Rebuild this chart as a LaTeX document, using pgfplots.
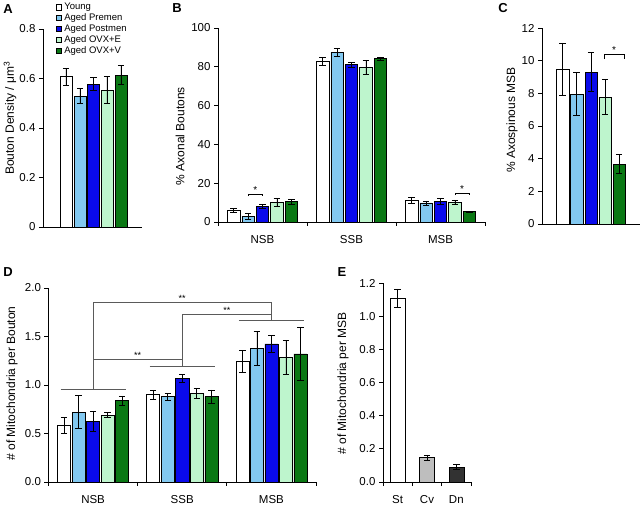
\documentclass[border=0pt]{standalone}
\usepackage{fontspec}
\setmainfont{Liberation Sans}
\usepackage{pgfplots}
\pgfplotsset{compat=1.18}

\definecolor{Premen}{RGB}{130,200,240}
\definecolor{Postmen}{RGB}{10,10,235}
\definecolor{OVXE}{RGB}{190,245,205}
\definecolor{OVXV}{RGB}{10,120,20}
\definecolor{Cv}{RGB}{190,190,190}
\definecolor{Dn}{RGB}{50,50,50}
\definecolor{brk}{RGB}{90,90,90}

\pgfplotsset{
  panel/.style={
    scale only axis, anchor=south west,
    axis lines*=left, axis line style={-, line width=0.8bp},
    ybar, ymin=0, clip=false,
    tick align=outside, major tick length=4bp, minor tick length=4bp,
    tick style={black, line width=0.8bp},
    tick label style={font=\fontsize{11.5bp}{13bp}\selectfont},
    ylabel style={font=\fontsize{12bp}{14bp}\selectfont, anchor=center},
    /pgf/number format/assume math mode=true,
    error bars/y dir=both, error bars/y explicit,
    error bars/error bar style={black, line width=0.6bp},
    error bars/error mark options={rotate=90, mark size=3.2bp, line width=0.6bp, black},
  },
  catx/.style={
    xmin=-0.5, xmax=2.5, xtick={0,1,2},
    minor xtick={-0.5,0.5,1.5,2.5},
    major x tick style={draw=none},
    xticklabel style={yshift=-6bp},
  },
  onedec/.style={yticklabel style={/pgf/number format/.cd, fixed, fixed zerofill, precision=1}},
  bx/.style={draw=black, line width=0.5bp, fill=#1},
  sq/.style={legend image code/.code={\draw[fill=#1, draw=black, line width=0.5bp] (0bp,-2.8bp) rectangle (5.6bp,2.8bp); \path (7.6bp,0);}},
}
\newcommand{\plab}[1]{\fontsize{13bp}{15bp}\selectfont\bfseries #1}

\begin{document}
\begin{tikzpicture}
\useasboundingbox (0,0) rectangle (640bp,508bp);

% ---------- A ----------
\node at (8bp,499bp) {\plab{A}};
\begin{axis}[panel, at={(43bp,281bp)}, width=99bp, height=198bp,
    xmin=-50.5, xmax=48.5, ymax=0.8, ytick={0,0.2,0.4,0.6,0.8}, xtick=\empty,
    bar width=12, ylabel={Bouton Density / μm\textsuperscript{3}},
    ylabel style={at={(axis description cs:-0.333,0.55)}},
    legend style={at={(axis description cs:0.095,1.145)}, anchor=north west,
      draw=none, fill=none, font=\fontsize{9.5bp}{11bp}\selectfont,
      row sep=1.4bp, nodes={inner sep=0.6bp}},
    legend cell align=left]
\addplot[bx=white, bar shift=-27.5, sq=white] coordinates {(0,0.608) +- (0,0.034)};
\addplot[bx=Premen, bar shift=-13.5, sq=Premen] coordinates {(0,0.530) +- (0,0.032)};
\addplot[bx=Postmen, bar shift=0, sq=Postmen] coordinates {(0,0.578) +- (0,0.025)};
\addplot[bx=OVXE, bar shift=13.5, sq=OVXE] coordinates {(0,0.554) +- (0,0.055)};
\addplot[bx=OVXV, bar shift=27.5, sq=OVXV] coordinates {(0,0.615) +- (0,0.038)};
\legend{Young, Aged Premen, Aged Postmen, Aged OVX+E, Aged OVX+V}
\end{axis}

% ---------- B ----------
\node at (177bp,500bp) {\plab{B}};
\begin{axis}[panel, catx, at={(218bp,286bp)}, width=267bp, height=194bp,
    ymax=100, ytick={0,20,40,60,80,100}, xticklabels={NSB,SSB,MSB},
    bar width=0.14, ylabel={\% Axonal Boutons},
    ylabel style={at={(axis description cs:-0.142,0.443)}}]
\addplot[bx=white, bar shift=-0.324] coordinates {(0,6.0) +- (0,1.2) (1,82.8) +- (0,2.0) (2,11.2) +- (0,1.7)};
\addplot[bx=Premen, bar shift=-0.162] coordinates {(0,3.0) +- (0,1.7) (1,87.6) +- (0,2.0) (2,9.8) +- (0,1.1)};
\addplot[bx=Postmen, bar shift=0] coordinates {(0,8.0) +- (0,1.0) (1,81.1) +- (0,1.3) (2,10.6) +- (0,1.5)};
\addplot[bx=OVXE, bar shift=0.162] coordinates {(0,10.2) +- (0,2.2) (1,79.6) +- (0,3.5) (2,10.3) +- (0,1.1)};
\addplot[bx=OVXV, bar shift=0.324] coordinates {(0,10.5) +- (0,1.3) (1,84.2) +- (0,0.9) (2,5.3) +- (0,0.35)};
\draw[line width=0.6bp] (axis cs:-0.162,13.3) |- (axis cs:0,14.4) -- (axis cs:0,13.3);
\node[anchor=south, inner sep=0.5bp, font=\fontsize{10bp}{11bp}\selectfont] at (axis cs:-0.081,14.4) {*};
\draw[line width=0.6bp] (axis cs:2.162,13.9) |- (axis cs:2.324,15.0) -- (axis cs:2.324,13.9);
\node[anchor=south, inner sep=0.5bp, font=\fontsize{10bp}{11bp}\selectfont] at (axis cs:2.243,15.0) {*};
\end{axis}

% ---------- C ----------
\node at (503bp,500bp) {\plab{C}};
\begin{axis}[panel, at={(542bp,284bp)}, width=98bp, height=196bp,
    xmin=-49, xmax=49, ymax=12, ytick={0,2,4,6,8,10,12}, xtick=\empty,
    bar width=12.5, ylabel={\% Axospinous MSB},
    ylabel style={at={(axis description cs:-0.306,0.53)}}]
\addplot[bx=white, bar shift=-28.5] coordinates {(0,9.47) +- (0,1.62)};
\addplot[bx=Premen, bar shift=-14.5] coordinates {(0,7.97) +- (0,1.30)};
\addplot[bx=Postmen, bar shift=0] coordinates {(0,9.30) +- (0,1.20)};
\addplot[bx=OVXE, bar shift=14] coordinates {(0,7.79) +- (0,1.07)};
\addplot[bx=OVXV, bar shift=28] coordinates {(0,3.66) +- (0,0.58)};
\draw[line width=0.6bp] (axis cs:13,10.1) |- (axis cs:33,10.37) -- (axis cs:33,10.1);
\node[anchor=south, inner sep=0.5bp, font=\fontsize{10bp}{11bp}\selectfont] at (axis cs:23,10.37) {*};
\end{axis}

% ---------- D ----------
\node at (8bp,236bp) {\plab{D}};
\begin{axis}[panel, catx, onedec, at={(48.5bp,26bp)}, width=267.5bp, height=194bp,
    ymax=2, ytick={0,0.5,1,1.5,2}, xticklabels={NSB,SSB,MSB},
    bar width=0.146, ylabel={\# of Mitochondria per Bouton},
    ylabel style={at={(axis description cs:-0.136,0.508)}}]
\addplot[bx=white, bar shift=-0.326] coordinates {(0,0.583) +- (0,0.085) (1,0.90) +- (0,0.047) (2,1.245) +- (0,0.115)};
\addplot[bx=Premen, bar shift=-0.163] coordinates {(0,0.72) +- (0,0.17) (1,0.88) +- (0,0.033) (2,1.38) +- (0,0.175)};
\addplot[bx=Postmen, bar shift=0] coordinates {(0,0.625) +- (0,0.10) (1,1.07) +- (0,0.04) (2,1.425) +- (0,0.083)};
\addplot[bx=OVXE, bar shift=0.163] coordinates {(0,0.69) +- (0,0.027) (1,0.915) +- (0,0.053) (2,1.285) +- (0,0.175)};
\addplot[bx=OVXV, bar shift=0.326] coordinates {(0,0.84) +- (0,0.047) (1,0.88) +- (0,0.07) (2,1.32) +- (0,0.275)};
\begin{scope}[brk, line width=0.8bp]
\draw (axis cs:-0.365,0.958) -- (axis cs:0.37,0.958);
\draw (axis cs:0.635,1.19) -- (axis cs:1.365,1.19);
\draw (axis cs:1.635,1.667) -- (axis cs:2.365,1.667);
\draw (axis cs:0,0.958) |- (axis cs:2,1.854) -- (axis cs:2,1.667);
\draw (axis cs:0,1.26) -- (axis cs:1,1.26);
\draw (axis cs:1,1.19) |- (axis cs:2,1.73);
\end{scope}
\node[anchor=south, inner sep=0.8bp, font=\fontsize{9bp}{10bp}\selectfont] at (axis cs:1,1.854) {**};
\node[anchor=south, inner sep=0.8bp, font=\fontsize{9bp}{10bp}\selectfont] at (axis cs:1.5,1.73) {**};
\node[anchor=south, inner sep=0.8bp, font=\fontsize{9bp}{10bp}\selectfont] at (axis cs:0.5,1.26) {**};
\end{axis}

% ---------- E ----------
\node at (342bp,236bp) {\plab{E}};
\begin{axis}[panel, catx, onedec, at={(383bp,26bp)}, width=88bp, height=199bp,
    ymax=1.2, ytick={0,0.2,0.4,0.6,0.8,1.0,1.2}, xticklabels={St,Cv,Dn},
    bar width=0.51, ylabel={\# of Mitochondria per MSB},
    ylabel style={at={(axis description cs:-0.455,0.495)}}]
\addplot[bx=white, bar shift=0] coordinates {(0,1.11) +- (0,0.055)};
\addplot[bx=Cv, bar shift=0] coordinates {(1,0.147) +- (0,0.016)};
\addplot[bx=Dn, bar shift=0] coordinates {(2,0.09) +- (0,0.014)};
\end{axis}
\end{tikzpicture}
\end{document}
